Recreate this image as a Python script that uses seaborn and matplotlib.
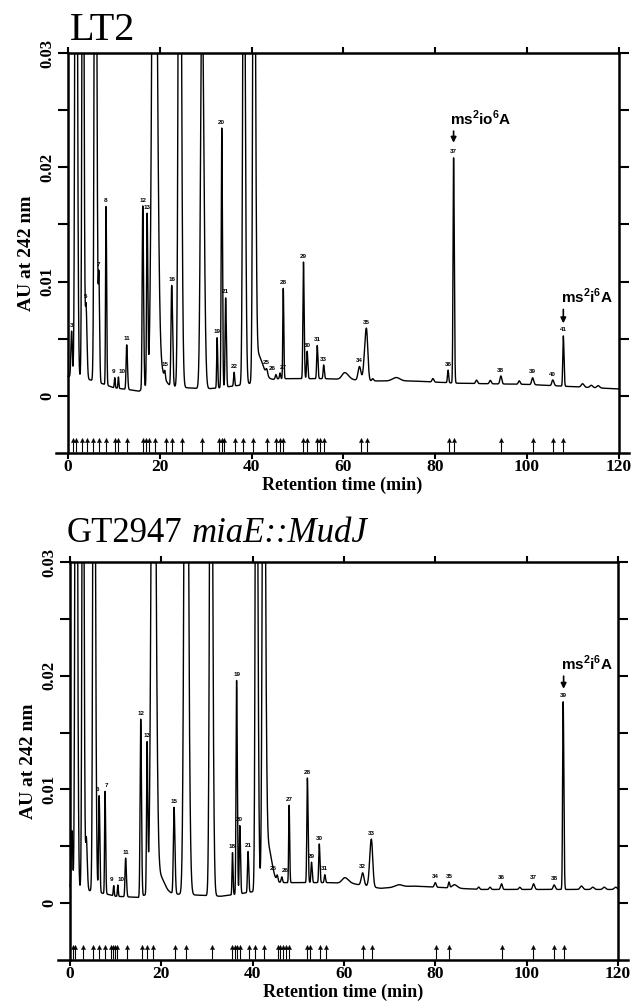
import numpy as np
import pandas as pd
import seaborn as sns
import matplotlib.pyplot as plt

# ---------------- LT2 (upper chromatogram) ----------------
lt2_base_t = [0, 4, 8, 10, 14, 15.5, 17, 21, 26, 30, 33, 37, 40, 46, 50, 56, 62, 66, 75, 85, 100, 110, 120]
lt2_base_v = [0.0017, 0.0015, 0.0010, 0.0007, 0.0005, 0.0004, 0.0008, 0.0009, 0.0007, 0.0006, 0.0007,
              0.0009, 0.0011, 0.0015, 0.0015, 0.0015, 0.0014, 0.0013, 0.0013, 0.0011, 0.0010, 0.0008, 0.0006]

lt2_peak_t = [0.8, 1.75, 3.25, 3.95, 5.95, 6.75, 8.3, 10.2, 11.0, 12.8, 16.3, 17.25, 18.8, 20.0, 21.1,
              22.6, 24.3, 29.2, 32.5, 33.5, 34.35, 36.2, 38.3, 40.5, 41.2, 43.3, 45.3, 46.2, 46.9, 51.3,
              52.1, 54.3, 55.7, 60.3, 63.5, 65.0, 66.4, 71.5, 79.5, 82.8, 84.0, 89.0, 92.0, 94.3, 98.3,
              101.2, 105.6, 107.9, 112.1, 114.0, 115.5]
lt2_peak_h = [0.004, 0.08, 0.06, 0.0062, 0.07, 0.0085, 0.0156, 0.0009, 0.001, 0.0039, 0.016, 0.015, 0.065,
              0.0015, 0.0006, 0.0088, 0.07, 0.036, 0.0044, 0.0227, 0.0078, 0.0012, 0.05, 0.06, 0.0025,
              0.0005, 0.0004, 0.0005, 0.0079, 0.0102, 0.0024, 0.0029, 0.0012, 0.0006, 0.0012, 0.0046,
              0.0002, 0.0003, 0.0003, 0.0011, 0.0197, 0.0003, 0.0003, 0.0007, 0.0003, 0.0006, 0.0005,
              0.0044, 0.0003, 0.0002, 0.0002]
lt2_peak_wl = [0.15, 0.2, 0.18, 0.15, 0.2, 0.12, 0.1, 0.1, 0.1, 0.13, 0.13, 0.12, 0.45, 0.4, 0.12,
               0.15, 0.25, 0.3, 0.1, 0.12, 0.12, 0.12, 0.22, 0.22, 0.3, 0.2, 0.15, 0.12, 0.1, 0.12,
               0.12, 0.12, 0.12, 0.6, 0.3, 0.4, 0.2, 0.8, 0.2, 0.13, 0.12, 0.2, 0.2, 0.2, 0.2,
               0.2, 0.2, 0.12, 0.3, 0.3, 0.3]
lt2_peak_wr = [0.15, 0.25, 0.22, 0.2, 0.28, 0.15, 0.13, 0.1, 0.1, 0.17, 0.17, 0.15, 0.55, 0.9, 0.12,
               0.2, 0.35, 0.4, 0.12, 0.15, 0.15, 0.12, 0.3, 0.3, 1.2, 0.2, 0.15, 0.12, 0.12, 0.15,
               0.15, 0.15, 0.15, 0.8, 0.3, 0.3, 0.2, 0.8, 0.2, 0.13, 0.15, 0.2, 0.2, 0.2, 0.2,
               0.25, 0.25, 0.15, 0.3, 0.3, 0.3]

lt2_label_t = [0.8, 3.95, 6.75, 8.3, 10.2, 11.0, 12.8, 16.3, 17.25, 21.1, 22.6, 32.5, 33.5, 34.35, 36.2,
               43.3, 45.3, 46.2, 46.9, 51.3, 52.1, 54.3, 55.7, 63.5, 65.0, 82.8, 84.0, 94.3, 101.2,
               105.6, 107.9]
lt2_labels = ['3', '5', '7', '8', '9', '10', '11', '12', '13', '15', '16', '19', '20', '21', '22',
              '25', '26', '27', '28', '29', '30', '31', '33', '34', '35', '36', '37', '38', '39',
              '40', '41']

lt2_marks = [1.0, 1.7, 3.0, 4.1, 5.5, 6.8, 8.4, 10.2, 11.0, 12.8, 16.3, 17.0, 17.7, 19.0, 21.3, 22.6,
             24.8, 29.1, 32.8, 33.5, 34.0, 36.3, 38.2, 40.4, 43.3, 45.3, 46.2, 46.8, 51.3, 52.1, 54.3,
             54.9, 55.7, 63.8, 65.1, 83.0, 84.1, 94.4, 101.2, 105.7, 107.9]

# ---------------- GT2947 miaE::MudJ (lower chromatogram) ----------------
gt_base_t = [0, 3, 8, 10, 15, 17, 20, 23, 28, 33, 37, 40, 44, 50, 57, 62, 68, 75, 90, 120]
gt_base_v = [0.0014, 0.0012, 0.0008, 0.0006, 0.0005, 0.0008, 0.0011, 0.0008, 0.0007, 0.0006, 0.0008,
             0.0010, 0.0018, 0.0018, 0.0018, 0.0017, 0.0013, 0.0015, 0.0012, 0.0012]

gt_peak_t = [0.45, 1.35, 2.85, 3.6, 5.25, 6.4, 7.7, 9.6, 10.5, 12.2, 15.5, 16.9, 18.25, 19.8, 22.8,
             25.4, 30.85, 35.6, 36.5, 37.2, 39.0, 40.8, 42.4, 43.2, 45.4, 46.4, 48.0, 52.0, 52.9,
             54.6, 55.8, 60.2, 64.1, 66.0, 72.0, 80.0, 83.0, 84.2, 89.5, 92.0, 94.5, 98.5, 101.5,
             106.0, 108.0, 112.0, 114.5, 117.0, 119.5]
gt_peak_h = [0.005, 0.08, 0.06, 0.0045, 0.07, 0.0085, 0.009, 0.0009, 0.001, 0.0034, 0.0156, 0.0132,
             0.065, 0.0012, 0.0076, 0.07, 0.06, 0.0037, 0.0188, 0.006, 0.0036, 0.06, 0.06, 0.0035,
             0.0005, 0.0005, 0.0068, 0.0092, 0.0018, 0.0034, 0.0007, 0.0005, 0.0011, 0.0042, 0.0002,
             0.0004, 0.0005, 0.0003, 0.0002, 0.0002, 0.0005, 0.0002, 0.0005, 0.0004, 0.0165, 0.0003,
             0.0002, 0.0002, 0.0002]
gt_peak_wl = [0.15, 0.2, 0.18, 0.15, 0.2, 0.12, 0.1, 0.1, 0.1, 0.13, 0.13, 0.12, 0.4, 0.4, 0.15,
              0.35, 0.25, 0.1, 0.12, 0.12, 0.12, 0.2, 0.25, 0.3, 0.15, 0.15, 0.1, 0.12, 0.12,
              0.12, 0.12, 0.6, 0.3, 0.35, 0.8, 0.2, 0.15, 0.5, 0.2, 0.2, 0.2, 0.2, 0.2,
              0.2, 0.12, 0.3, 0.3, 0.3, 0.3]
gt_peak_wr = [0.15, 0.25, 0.22, 0.2, 0.28, 0.15, 0.13, 0.1, 0.1, 0.17, 0.17, 0.15, 0.5, 0.9, 0.2,
              0.45, 0.35, 0.12, 0.15, 0.15, 0.15, 0.3, 0.35, 0.9, 0.15, 0.15, 0.12, 0.15, 0.15,
              0.15, 0.15, 0.8, 0.3, 0.3, 0.8, 0.2, 0.15, 0.6, 0.2, 0.2, 0.2, 0.2, 0.25,
              0.25, 0.15, 0.3, 0.3, 0.3, 0.3]

gt_label_t = [6.4, 7.7, 9.6, 10.5, 12.2, 15.5, 16.9, 22.8, 35.6, 36.5, 37.2, 39.0, 45.4, 46.4, 48.0,
              52.0, 52.9, 54.6, 55.8, 64.1, 66.0, 80.0, 83.0, 94.5, 101.5, 106.0, 108.0]
gt_labels = ['6', '7', '9', '10', '11', '12', '13', '15', '18', '19', '20', '21', '25', '26', '27',
             '28', '29', '30', '31', '32', '33', '34', '35', '36', '37', '38', '39']

gt_marks = [0.6, 1.1, 2.8, 5.1, 6.4, 7.7, 9.1, 9.5, 9.9, 10.4, 12.4, 15.7, 16.9, 18.2, 23.0, 25.5,
            31.2, 35.6, 36.1, 36.6, 37.2, 39.2, 40.6, 42.5, 45.6, 46.1, 46.7, 47.3, 48.0, 52.0, 52.5,
            54.7, 56.0, 64.2, 66.1, 80.1, 83.0, 94.5, 101.4, 106.0, 108.2]

# crowded neighbours: nudge these labels sideways so they don't sit on each other
label_align = {('LT2', '26'): 'right', ('LT2', '27'): 'left', ('LT2', '9'): 'right',
               ('LT2', '10'): 'left', ('GT', '9'): 'right', ('GT', '10'): 'left',
               ('GT', '25'): 'right', ('GT', '26'): 'left', ('GT', '6'): 'right',
               ('GT', '7'): 'left'}


def build_trace(grid, base_t, base_v, pt, ph, pwl, pwr):
    y = np.interp(grid, base_t, base_v)
    for t0, h, wl, wr in zip(pt, ph, pwl, pwr):
        s = np.where(grid < t0, wl, wr)
        y = y + h * np.exp(-0.5 * ((grid - t0) / s) ** 2)
    return y


sns.set_style("ticks")
plt.rcParams['font.family'] = ['Liberation Serif', 'DejaVu Serif']
plt.rcParams['mathtext.fontset'] = 'custom'
plt.rcParams['mathtext.bf'] = 'Liberation Sans:bold'
plt.rcParams['mathtext.rm'] = 'Liberation Sans:bold'
for key in ['axes.edgecolor', 'xtick.color', 'ytick.color', 'text.color', 'axes.labelcolor']:
    plt.rcParams[key] = 'black'

fig = plt.figure(figsize=(6.32, 10.01), dpi=100)
ax_top = fig.add_axes([0.0886, 0.5475, 0.9066, 0.3996])
ax_bot = fig.add_axes([0.0918, 0.0410, 0.9019, 0.3976])

grid = np.arange(0, 120.001, 0.01)

panels = [
    ('LT2', ax_top, lt2_base_t, lt2_base_v, lt2_peak_t, lt2_peak_h, lt2_peak_wl, lt2_peak_wr,
     lt2_label_t, lt2_labels, lt2_marks),
    ('GT', ax_bot, gt_base_t, gt_base_v, gt_peak_t, gt_peak_h, gt_peak_wl, gt_peak_wr,
     gt_label_t, gt_labels, gt_marks),
]

for name, ax, bt, bv, pt, ph, pwl, pwr, lt, lab, marks in panels:
    y = build_trace(grid, bt, bv, pt, ph, pwl, pwr)
    df = pd.DataFrame({"time": grid, "AU": y})
    sns.lineplot(data=df, x="time", y="AU", ax=ax, color="black", lw=1.0,
                 estimator=None, sort=False)

    # peak numbers just above each apex
    for t, s in zip(lt, lab):
        win = (grid > t - 0.12) & (grid < t + 0.12)
        top = y[win].max()
        ax.text(t, top + 0.0003, s, ha=label_align.get((name, s), "center"), va="bottom",
                fontsize=4.5, fontweight="bold", family=["Liberation Sans", "DejaVu Sans"])

    # little arrows marking integrated peaks along the bottom
    ax.vlines(marks, -0.0049, -0.0040, color="black", lw=0.8)
    sns.scatterplot(x=marks, y=[-0.0039] * len(marks), ax=ax, marker="^", s=9,
                    color="black", edgecolor="black", linewidth=0.3, legend=False)

    ax.set_xlim(-2.6, 122.2)
    ax.set_ylim(-0.005, 0.03)
    ax.spines['left'].set_position(('data', 0))
    ax.spines['right'].set_position(('data', 120))
    ax.spines['top'].set_bounds(0, 120)
    for sp in ax.spines.values():
        sp.set_linewidth(1.8)
        sp.set_visible(True)
        sp.set_color('black')

    ax.set_xticks([0, 20, 40, 60, 80, 100, 120])
    ax.set_xticklabels(['0', '20', '40', '60', '80', '100', '120'], fontsize=12.5, fontweight="bold")
    ax.set_yticks([0, 0.01, 0.02, 0.03])
    ax.set_yticklabels(['0', '0.01', '0.02', '0.03'], rotation=90, va="center",
                       fontsize=12, fontweight="bold")
    ax.set_yticks([0.005, 0.015, 0.025], minor=True)
    ax.tick_params(axis="y", which="both", direction="out", length=7, width=1.5,
                   left=True, right=True, pad=2)
    ax.tick_params(axis="x", which="major", direction="out", length=4.5, width=1.5,
                   top=True, bottom=True, pad=0)
    ax.set_xlabel("Retention time (min)", fontsize=13, fontweight="bold", labelpad=1)
    ax.set_ylabel("AU at 242 nm", fontsize=14, fontweight="bold", labelpad=3)

# modified nucleoside call-outs
ax_top.text(83.2, 0.0237, r"ms$^{\mathbf{2}}$io$^{\mathbf{6}}$A", fontsize=11, fontweight="bold",
            family=["Liberation Sans", "DejaVu Sans"], ha="left", va="baseline")
ax_top.annotate("", xy=(84.0, 0.0219), xytext=(84.0, 0.0234),
                arrowprops=dict(arrowstyle="-|>", color="black", lw=1.2, mutation_scale=8))
ax_top.text(107.4, 0.0081, r"ms$^{\mathbf{2}}$i$^{\mathbf{6}}$A", fontsize=11, fontweight="bold",
            family=["Liberation Sans", "DejaVu Sans"], ha="left", va="baseline")
ax_top.annotate("", xy=(107.9, 0.0061), xytext=(107.9, 0.0078),
                arrowprops=dict(arrowstyle="-|>", color="black", lw=1.2, mutation_scale=8))

ax_bot.text(107.6, 0.0205, r"ms$^{\mathbf{2}}$i$^{\mathbf{6}}$A", fontsize=11, fontweight="bold",
            family=["Liberation Sans", "DejaVu Sans"], ha="left", va="baseline")
ax_bot.annotate("", xy=(108.1, 0.0186), xytext=(108.1, 0.0202),
                arrowprops=dict(arrowstyle="-|>", color="black", lw=1.2, mutation_scale=8))

# panel titles
fig.text(70 / 632, 1 - 40 / 1001, "LT2", fontsize=29, va="baseline", ha="left")
t1 = fig.text(67 / 632, 1 - 542 / 1001, "GT2947", fontsize=25, va="baseline", ha="left")
fig.canvas.draw()
bb = t1.get_window_extent()
fig.text((bb.x1 + 9) / fig.bbox.width, 1 - 542 / 1001, "miaE::MudJ", fontsize=25,
         style="italic", va="baseline", ha="left")

fig.savefig("out.png", dpi=100)
